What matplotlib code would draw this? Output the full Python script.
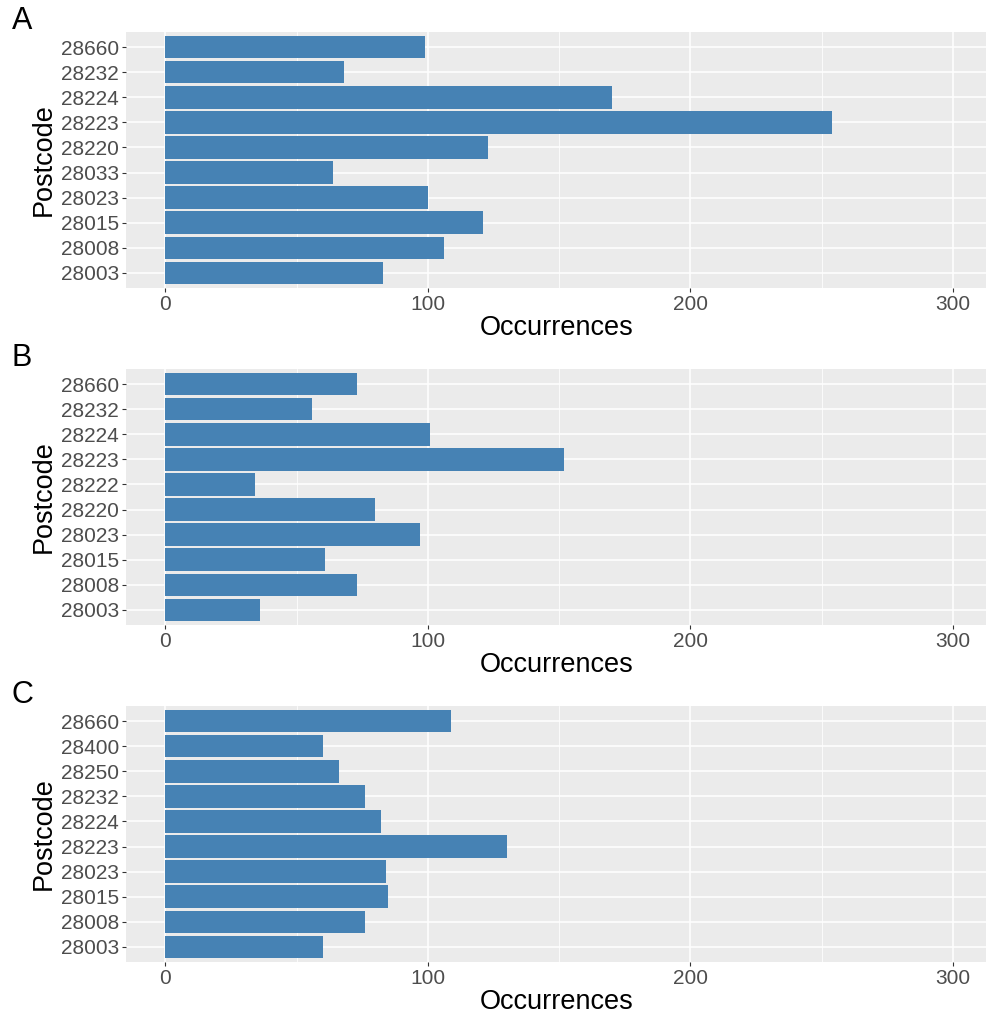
import matplotlib
matplotlib.use("Agg")
import matplotlib.pyplot as plt
from matplotlib.ticker import MultipleLocator

plt.rcParams['font.family'] = ['Liberation Sans', 'DejaVu Sans']

# postcode counts per panel (bottom to top)
codes_a = ["28003", "28008", "28015", "28023", "28033", "28220", "28223", "28224", "28232", "28660"]
counts_a = [83, 106, 121, 100, 64, 123, 254, 170, 68, 99]

codes_b = ["28003", "28008", "28015", "28023", "28220", "28222", "28223", "28224", "28232", "28660"]
counts_b = [36, 73, 61, 97, 80, 34, 152, 101, 56, 73]

codes_c = ["28003", "28008", "28015", "28023", "28223", "28224", "28232", "28250", "28400", "28660"]
counts_c = [60, 76, 85, 84, 130, 82, 76, 66, 60, 109]

panels = [("A", codes_a, counts_a), ("B", codes_b, counts_b), ("C", codes_c, counts_c)]

W, H = 987, 1017
fig = plt.figure(figsize=(W / 100, H / 100), dpi=100)

left_px, right_px = 126, 987
tops = [32, 369, 706]
panel_h = 256

for (tag, codes, counts), top in zip(panels, tops):
    ax = fig.add_axes([left_px / W, 1 - (top + panel_h) / H,
                       (right_px - left_px) / W, panel_h / H])
    ax.set_facecolor("#EBEBEB")
    ypos = range(len(codes))
    ax.barh(ypos, counts, height=0.9, color="#4682B4", zorder=3)

    ax.set_xlim(-15, 313)
    ax.set_ylim(-0.6, len(codes) - 0.4)
    ax.xaxis.set_major_locator(MultipleLocator(100))
    ax.xaxis.set_minor_locator(MultipleLocator(50))
    ax.set_yticks(list(ypos))
    ax.set_yticklabels(codes)

    ax.grid(which="major", color="white", linewidth=1.1, zorder=1)
    ax.grid(which="minor", axis="x", color="white", linewidth=0.55, zorder=1)
    for s in ax.spines.values():
        s.set_visible(False)

    ax.tick_params(which="major", length=3, width=0.8, color="#333333",
                   labelsize=15, labelcolor="#4D4D4D", pad=2)
    ax.tick_params(which="minor", length=0)

    ax.set_xlabel("Occurrences", fontsize=19.5, color="black", labelpad=1)
    ax.set_ylabel("Postcode", fontsize=19.5, color="black", labelpad=3)

    # panel tag, baseline just above the panel
    fig.text(12 / W, 1 - (top - 3) / H, tag, fontsize=22, va="baseline", ha="left")

fig.savefig("out.png", dpi=100)
